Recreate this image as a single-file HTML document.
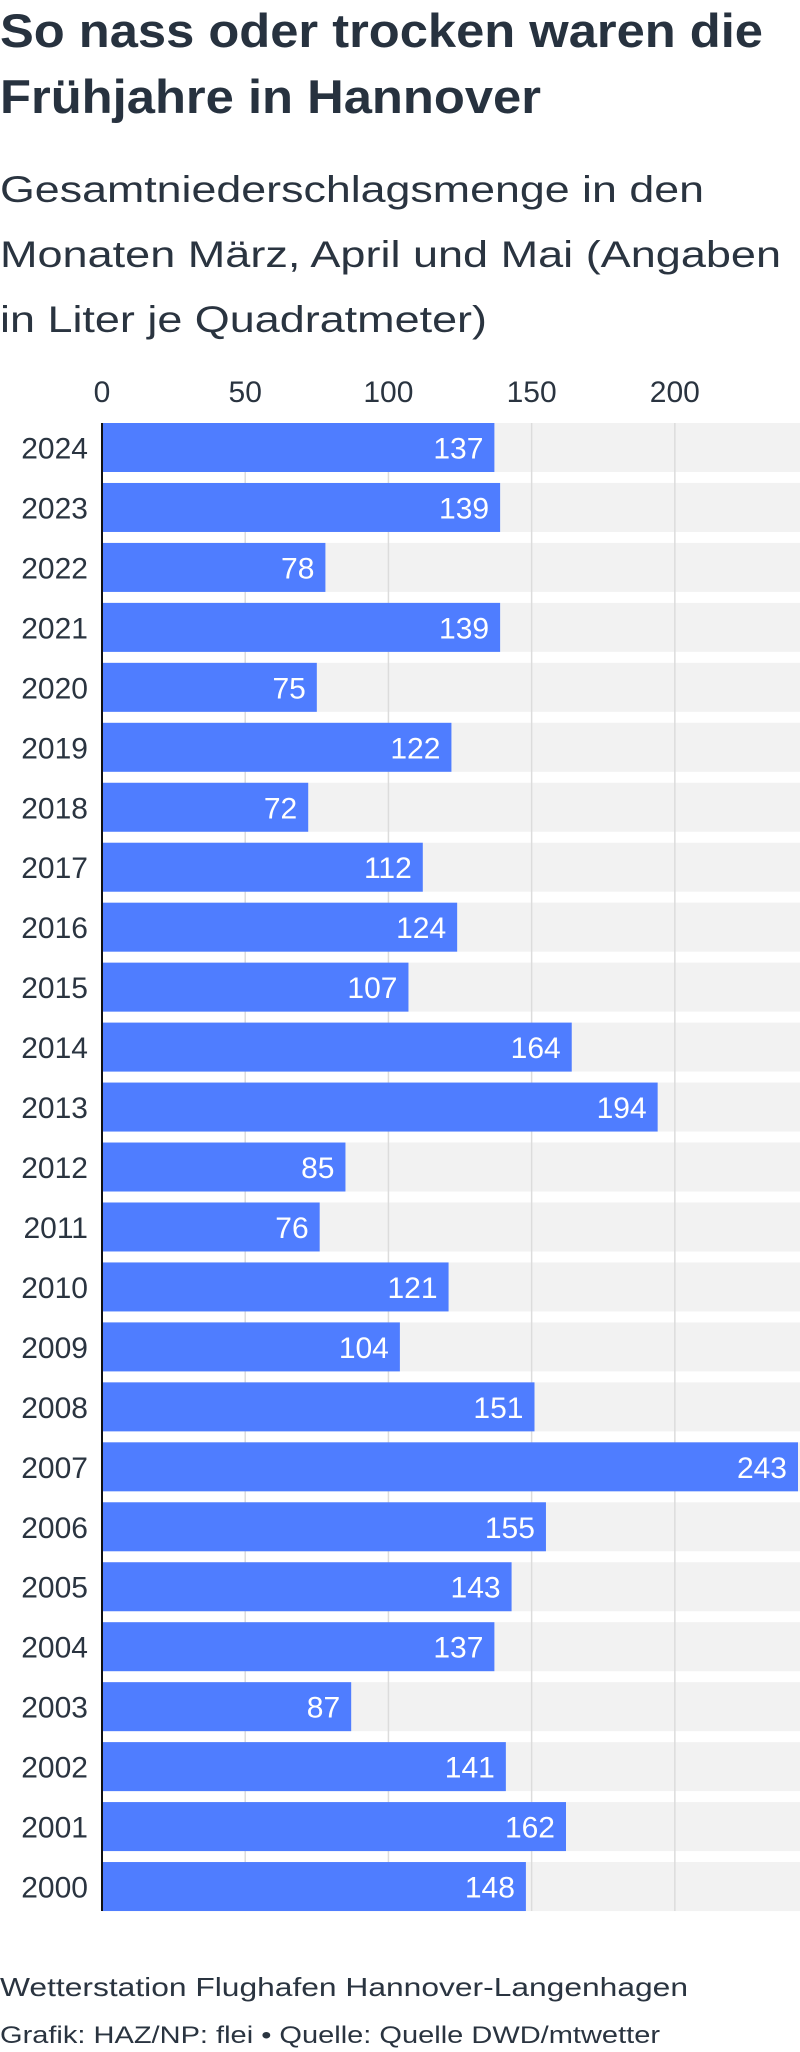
<!DOCTYPE html>
<html><head><meta charset="utf-8">
<style>
html,body{margin:0;padding:0;background:#fff;}
svg{display:block;font-family:"Liberation Sans",sans-serif;}
</style></head>
<body>
<svg id="chart" width="800" height="2052" viewBox="0 0 800 2052" xmlns="http://www.w3.org/2000/svg">
  <text x="0" y="47" font-size="47" font-weight="bold" fill="#27323f" textLength="763" lengthAdjust="spacingAndGlyphs">So nass oder trocken waren die</text>
  <text x="0" y="113" font-size="47" font-weight="bold" fill="#27323f" textLength="541" lengthAdjust="spacingAndGlyphs">Frühjahre in Hannover</text>
  <text x="0" y="202" font-size="37" fill="#2a3440" textLength="704" lengthAdjust="spacingAndGlyphs">Gesamtniederschlagsmenge in den</text>
  <text x="0" y="267" font-size="37" fill="#2a3440" textLength="781" lengthAdjust="spacingAndGlyphs">Monaten März, April und Mai (Angaben</text>
  <text x="0" y="332" font-size="37" fill="#2a3440" textLength="487" lengthAdjust="spacingAndGlyphs">in Liter je Quadratmeter)</text>
  <g id="plot"></g>
  <text x="0" y="1996" font-size="26" fill="#2a3440" textLength="688" lengthAdjust="spacingAndGlyphs">Wetterstation Flughafen Hannover-Langenhagen</text>
  <text x="0" y="2043" font-size="24" fill="#2a3440" textLength="660" lengthAdjust="spacingAndGlyphs">Grafik: HAZ/NP: flei • Quelle: Quelle DWD/mtwetter</text>
</svg>
<script>
const years = ["2024","2023","2022","2021","2020","2019","2018","2017","2016","2015","2014","2013","2012","2011","2010","2009","2008","2007","2006","2005","2004","2003","2002","2001","2000"];
const values = [137,139,78,139,75,122,72,112,124,107,164,194,85,76,121,104,151,243,155,143,137,87,141,162,148];
const ticks = [0,50,100,150,200];

const NS = "http://www.w3.org/2000/svg";
const g = document.getElementById('plot');
const x0 = 102, xMax = 800, domainMax = 243;
const top0 = 423, pitch = 59.96, barH = 49;
function xs(v){ return x0 + v * (xMax - 2 - x0) / domainMax; }
function ys(i){ return top0 + i * pitch; }
function mk(tag, attrs){ const e = document.createElementNS(NS, tag); for (const k in attrs) e.setAttribute(k, attrs[k]); g.appendChild(e); return e; }

years.forEach((y, i) => {
  const bg = mk('rect', {x: x0, y: ys(i), width: xMax - x0, height: barH, fill: '#f2f2f2'});
  
  
});
ticks.forEach(t => {
  if (t === 0) return;
  const l = mk('line', {x1: xs(t), x2: xs(t), y1: top0, y2: ys(years.length - 1) + barH, stroke: '#dcdcdc', 'stroke-width': 1.5});
  
  
});
ticks.forEach(t => {
  const tx = mk('text', {x: xs(t), y: 402, 'font-size': 30, fill: '#2a3440', 'text-anchor': 'middle'});
  tx.textContent = t;
  
  
});
years.forEach((y, i) => {
  const v = values[i];
  const b = mk('rect', {x: x0, y: ys(i), width: xs(v) - x0, height: barH, fill: '#4f7dff'});
  
  
  const lab = mk('text', {x: 88, y: ys(i) + barH/2 + 11, 'font-size': 30, fill: '#2a3440', 'text-anchor': 'end'});
  lab.textContent = y;
  
  
  const vl = mk('text', {x: xs(v) - 11, y: ys(i) + barH/2 + 11, 'font-size': 30, fill: '#ffffff', 'text-anchor': 'end'});
  vl.textContent = v;
  
  
});
const ax = mk('line', {x1: x0, x2: x0, y1: top0, y2: ys(years.length - 1) + barH, stroke: '#111', 'stroke-width': 2});


</script>
</body></html>
